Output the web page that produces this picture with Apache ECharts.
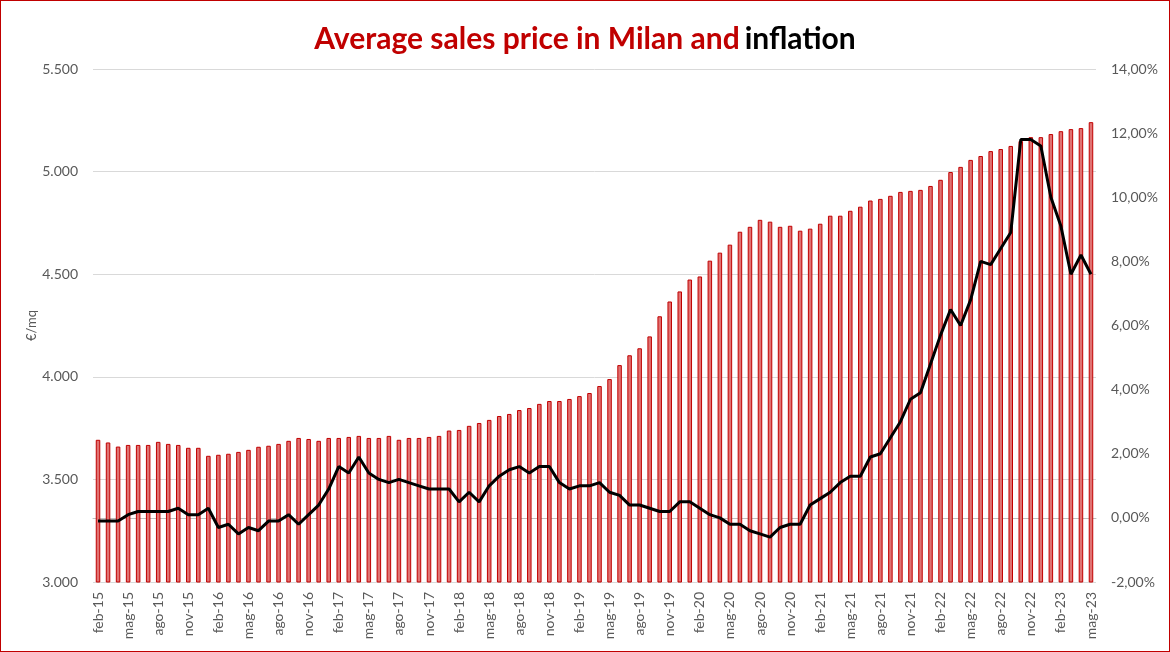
<!DOCTYPE html>
<html>
<head>
<meta charset="utf-8">
<script src="https://cdn.jsdelivr.net/npm/echarts@6/dist/echarts.min.js"></script>
<style>
  html, body { margin: 0; padding: 0; background: #fff; }
  #chart { width: 1170px; height: 652px; box-sizing: border-box; border: 1px solid #C00000; }
</style>
</head>
<body>
<div id="chart"></div>
<script>
// month names used on the x axis (Italian)
const monthNames = ['gen', 'feb', 'mar', 'apr', 'mag', 'giu', 'lug', 'ago', 'set', 'ott', 'nov', 'dic'];

// feb-15 .. mag-23
const categories = [];
for (let y = 2015; y <= 2023; y++) {
  for (let m = 0; m < 12; m++) {
    if (y === 2015 && m < 1) continue;
    if (y === 2023 && m > 4) continue;
    categories.push(monthNames[m] + '-' + String(y).slice(2));
  }
}

// average sales price, €/mq
const prices = [
  3693, 3680, 3660, 3668, 3668, 3668, 3683, 3673, 3668, 3654, 3654,
  3615, 3620, 3625, 3634, 3644, 3659, 3664, 3673, 3688, 3702, 3697, 3688,
  3702, 3702, 3707, 3712, 3702, 3702, 3712, 3693, 3702, 3702, 3707, 3712,
  3738, 3741, 3761, 3775, 3790, 3809, 3819, 3838, 3848, 3868, 3882, 3882,
  3892, 3906, 3921, 3955, 3989, 4057, 4105, 4139, 4197, 4295, 4367, 4416,
  4474, 4489, 4566, 4605, 4644, 4707, 4731, 4765, 4756, 4731, 4736, 4712,
  4722, 4746, 4785, 4785, 4809, 4829, 4859, 4867, 4882, 4901, 4906, 4911,
  4930, 4960, 4998, 5023, 5057, 5076, 5100, 5110, 5125, 5149, 5168, 5168,
  5183, 5197, 5207, 5212, 5241
];

// inflation, %
const inflation = [
  -0.1, -0.1, -0.1, 0.1, 0.2, 0.2, 0.2, 0.2, 0.3, 0.1, 0.1,
  0.3, -0.3, -0.2, -0.5, -0.3, -0.4, -0.1, -0.1, 0.1, -0.2, 0.1, 0.4,
  0.9, 1.6, 1.4, 1.9, 1.4, 1.2, 1.1, 1.2, 1.1, 1.0, 0.9, 0.9,
  0.9, 0.5, 0.8, 0.5, 1.0, 1.3, 1.5, 1.6, 1.4, 1.6, 1.6, 1.1,
  0.9, 1.0, 1.0, 1.1, 0.8, 0.7, 0.4, 0.4, 0.3, 0.2, 0.2, 0.5,
  0.5, 0.3, 0.1, 0.0, -0.2, -0.2, -0.4, -0.5, -0.6, -0.3, -0.2, -0.2,
  0.4, 0.6, 0.8, 1.1, 1.3, 1.3, 1.9, 2.0, 2.5, 3.0, 3.7, 3.9,
  4.8, 5.7, 6.5, 6.0, 6.8, 8.0, 7.9, 8.4, 8.9, 11.8, 11.8, 11.6,
  10.0, 9.1, 7.6, 8.2, 7.6
];

const chart = echarts.init(document.getElementById('chart'));

const axisText = { color: '#595959', fontFamily: 'Lato', fontSize: 14 };

chart.setOption({
  animation: false,
  title: {
    text: '{r|Average sales price in Milan and} {b|inflation}',
    left: 'center',
    top: 18,
    textStyle: {
      rich: {
        r: { color: '#C00000', fontFamily: 'Lato', fontWeight: 'bold', fontSize: 30 },
        b: { color: '#000', fontFamily: 'Lato', fontWeight: 'bold', fontSize: 30 }
      }
    }
  },
  grid: { left: 92, right: 73, top: 68, bottom: 69 },
  xAxis: {
    type: 'category',
    data: categories,
    axisLine: { lineStyle: { color: '#BFBFBF' } },
    axisTick: { interval: 2, length: 5, lineStyle: { color: '#BFBFBF' } },
    axisLabel: Object.assign({ interval: 2, rotate: 90, margin: 10 }, axisText)
  },
  yAxis: [
    {
      type: 'value',
      min: 3000,
      max: 5500,
      interval: 500,
      name: '€/mq',
      nameLocation: 'middle',
      nameGap: 55,
      nameMoveOverlap: false,
      nameTextStyle: { color: '#595959', fontFamily: 'Lato', fontSize: 13 },
      axisLabel: Object.assign({
        margin: 15,
        formatter: v => String(v).replace(/\B(?=(\d{3})+(?!\d))/g, '.')
      }, axisText),
      splitLine: { lineStyle: { color: '#D9D9D9' } }
    },
    {
      type: 'value',
      min: -2,
      max: 14,
      interval: 2,
      axisLabel: Object.assign({
        margin: 15,
        formatter: v => v.toFixed(2).replace('.', ',') + '%'
      }, axisText),
      splitLine: { show: false }
    }
  ],
  series: [
    {
      name: 'Prezzo medio',
      type: 'bar',
      data: prices,
      barWidth: '45%',
      itemStyle: { color: '#E07272', borderColor: '#C00000', borderWidth: 1 }
    },
    {
      name: 'Inflazione',
      type: 'line',
      yAxisIndex: 1,
      data: inflation,
      showSymbol: false,
      symbol: 'none',
      lineStyle: { color: '#000', width: 3 }
    }
  ]
});
</script>
</body>
</html>
